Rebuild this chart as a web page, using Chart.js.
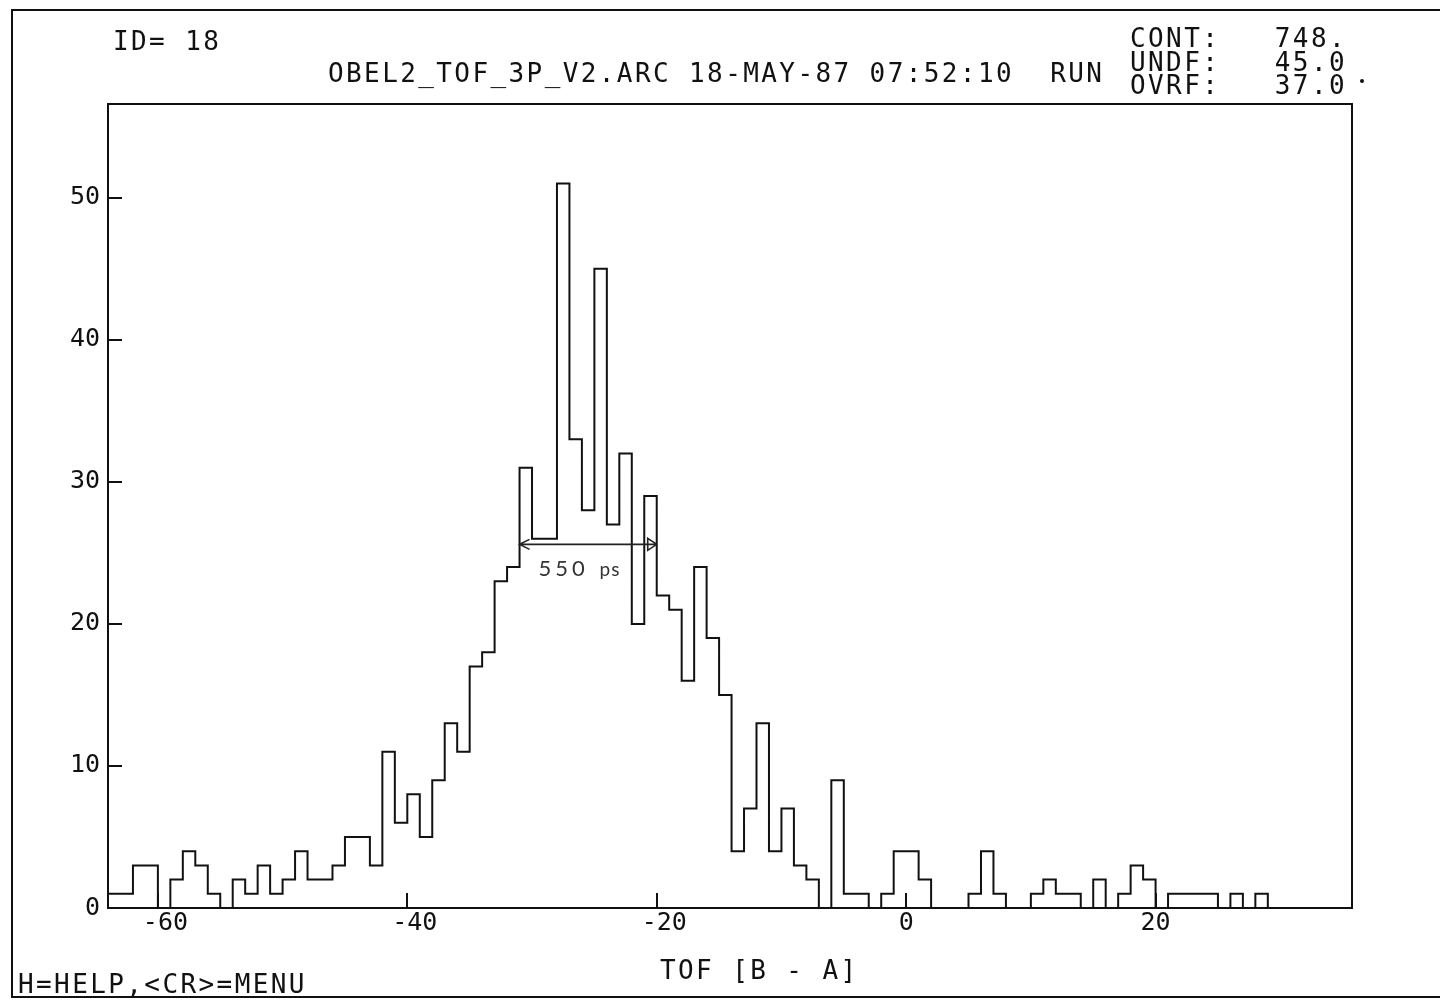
<!DOCTYPE html>
<html>
<head>
<meta charset="utf-8">
<title>OBEL2 TOF histogram</title>
<script src="https://cdn.jsdelivr.net/npm/chart.js@4/dist/chart.umd.min.js"></script>
<style>
  html, body { margin: 0; padding: 0; background: #fff; }
  #hist { display: block; width: 1440px; height: 1000px; }
</style>
</head>
<body>
<canvas id="hist" width="1440" height="1000"></canvas>
<script>
/* ── histogram ID 18 : TOF [B - A], 1 unit per bin starting at -64 ── */
const binLow = -64;
const binWidth = 1;
const counts = [
  1, 1, 3, 3, 0, 2, 4, 3, 1, 0,          // -64 .. -55
  2, 1, 3, 1, 2, 4, 2, 2, 3, 5,          // -54 .. -45
  5, 3, 11, 6, 8, 5, 9, 13, 11, 17,      // -44 .. -35
  18, 23, 24, 31, 26, 26, 51, 33, 28, 45, // -34 .. -25
  27, 32, 20, 29, 22, 21, 16, 24, 19, 15, // -24 .. -15
  4, 7, 13, 4, 7, 3, 2, 0, 9, 1,         // -14 .. -5
  1, 0, 1, 4, 4, 2, 0, 0, 0, 1,          //  -4 .. 5
  4, 1, 0, 0, 1, 2, 1, 1, 0, 2,          //   6 .. 15
  0, 1, 3, 2, 0, 1, 1, 1, 1, 0,          //  16 .. 25
  1, 0, 1, 0, 0, 0, 0, 0, 0, 0           //  26 .. 35
];

const xTickValues = [-60, -40, -20, 0, 20];
const yTickValues = [0, 10, 20, 30, 40, 50];

const headerId = 'ID= 18';
const headerTitle = 'OBEL2_TOF_3P_V2.ARC 18-MAY-87 07:52:10  RUN';
const statLabels = ['CONT:', 'UNDF:', 'OVRF:'];
const statValues = ['748.', '45.0', '37.0'];
const xTitle = 'TOF [B - A]';
const footer = 'H=HELP,<CR>=MENU';

// hand-written FWHM marker on the plot
const fwhmFrom = -31;
const fwhmTo = -20;
const fwhmLevel = 25.6;
const fwhmValue = '550';
const fwhmUnit = 'ps';

const INK = '#111';
const MONO = '"DejaVu Sans Mono", "Liberation Mono", monospace';

// outline points: each bin's low edge, plus the closing upper edge
const histPoints = counts.map((c, i) => ({ x: binLow + i * binWidth, y: c }));
histPoints.push({ x: binLow + counts.length * binWidth, y: counts[counts.length - 1] });

/**
 * Plotter decorations: frame, inward ticks, header/footer text, FWHM arrow
 */
const plotterDecor = {
  id: 'plotterDecor',
  afterDraw(chart) {
    const { ctx, chartArea: a, scales: { x, y } } = chart;
    ctx.save();
    ctx.strokeStyle = INK;
    ctx.fillStyle = INK;
    ctx.lineWidth = 2;

    // plot frame
    ctx.strokeRect(a.left, a.top, a.right - a.left, a.bottom - a.top);

    // inward tick marks
    ctx.beginPath();
    yTickValues.forEach(v => {
      const py = Math.round(y.getPixelForValue(v));
      ctx.moveTo(a.left, py);
      ctx.lineTo(a.left + 14, py);
    });
    xTickValues.forEach(v => {
      const px = Math.round(x.getPixelForValue(v));
      ctx.moveTo(px, a.bottom);
      ctx.lineTo(px, a.bottom - 15);
    });
    ctx.stroke();

    // page frame of the terminal screen
    ctx.beginPath();
    ctx.moveTo(1440, 10);
    ctx.lineTo(12, 10);
    ctx.lineTo(12, 997);
    ctx.lineTo(1440, 997);
    ctx.stroke();

    // texts
    ctx.font = `26px ${MONO}`;
    ctx.letterSpacing = '2.4px';
    ctx.textBaseline = 'alphabetic';
    ctx.textAlign = 'left';
    ctx.fillText(headerId, 113, 50);
    ctx.fillText(headerTitle, 328, 82);
    statLabels.forEach((s, i) => ctx.fillText(s, 1130, 47 + i * 23.5));
    ctx.textAlign = 'right';
    statValues.forEach((s, i) => ctx.fillText(s, 1347, 47 + i * 23.5));
    ctx.beginPath();
    ctx.arc(1362, 81, 2, 0, Math.PI * 2);
    ctx.fill();
    ctx.textAlign = 'left';
    ctx.fillText(xTitle, 660, 979);
    ctx.fillText(footer, 18, 993);

    // FWHM arrow
    const ax1 = x.getPixelForValue(fwhmFrom);
    const ax2 = x.getPixelForValue(fwhmTo);
    const ay = y.getPixelForValue(fwhmLevel);
    ctx.strokeStyle = '#222';
    ctx.lineWidth = 1.6;
    ctx.beginPath();
    ctx.moveTo(ax1, ay);
    ctx.lineTo(ax2, ay);
    ctx.moveTo(ax1 + 10, ay - 5);
    ctx.lineTo(ax1, ay);
    ctx.lineTo(ax1 + 10, ay + 5);
    ctx.moveTo(ax2 - 9, ay - 6);
    ctx.lineTo(ax2, ay);
    ctx.lineTo(ax2 - 9, ay + 6);
    ctx.closePath();
    ctx.stroke();

    ctx.fillStyle = '#333';
    ctx.letterSpacing = '4px';
    ctx.font = '22px Lato, "Liberation Sans", sans-serif';
    ctx.fillText(fwhmValue, ax1 + 19, ay + 32);
    ctx.letterSpacing = '1px';
    ctx.font = '19px Lato, "Liberation Sans", sans-serif';
    ctx.fillText(fwhmUnit, ax1 + 80, ay + 32);
    ctx.restore();
  }
};

new Chart(document.getElementById('hist'), {
  type: 'line',
  data: {
    datasets: [{
      data: histPoints,
      stepped: 'before',
      borderColor: INK,
      borderWidth: 2,
      pointRadius: 0,
      fill: false
    }]
  },
  options: {
    responsive: false,
    animation: false,
    devicePixelRatio: 1,
    layout: { padding: { left: 13, top: 104, right: 88, bottom: 52 } },
    plugins: { legend: { display: false }, tooltip: { enabled: false } },
    scales: {
      x: {
        type: 'linear',
        min: binLow,
        max: 35.75,
        grid: { display: false },
        border: { display: false },
        afterBuildTicks: s => { s.ticks = xTickValues.map(v => ({ value: v })); },
        afterFit: s => { s.height = 40; },
        ticks: {
          font: { family: MONO, size: 25 },
          color: INK,
          padding: -8,
          maxRotation: 0,
          autoSkip: false,
          // plotter centres the digits, the minus hangs to the left
          callback: v => (v < 0 ? ' ' : '') + v
        }
      },
      y: {
        type: 'linear',
        min: 0,
        max: 56.6,
        grid: { display: false },
        border: { display: false },
        afterBuildTicks: s => { s.ticks = yTickValues.map(v => ({ value: v })); },
        afterFit: s => { s.width = 95; },
        ticks: {
          font: { family: MONO, size: 25 },
          color: INK,
          padding: 0
        }
      }
    }
  },
  plugins: [plotterDecor]
});
</script>
</body>
</html>
